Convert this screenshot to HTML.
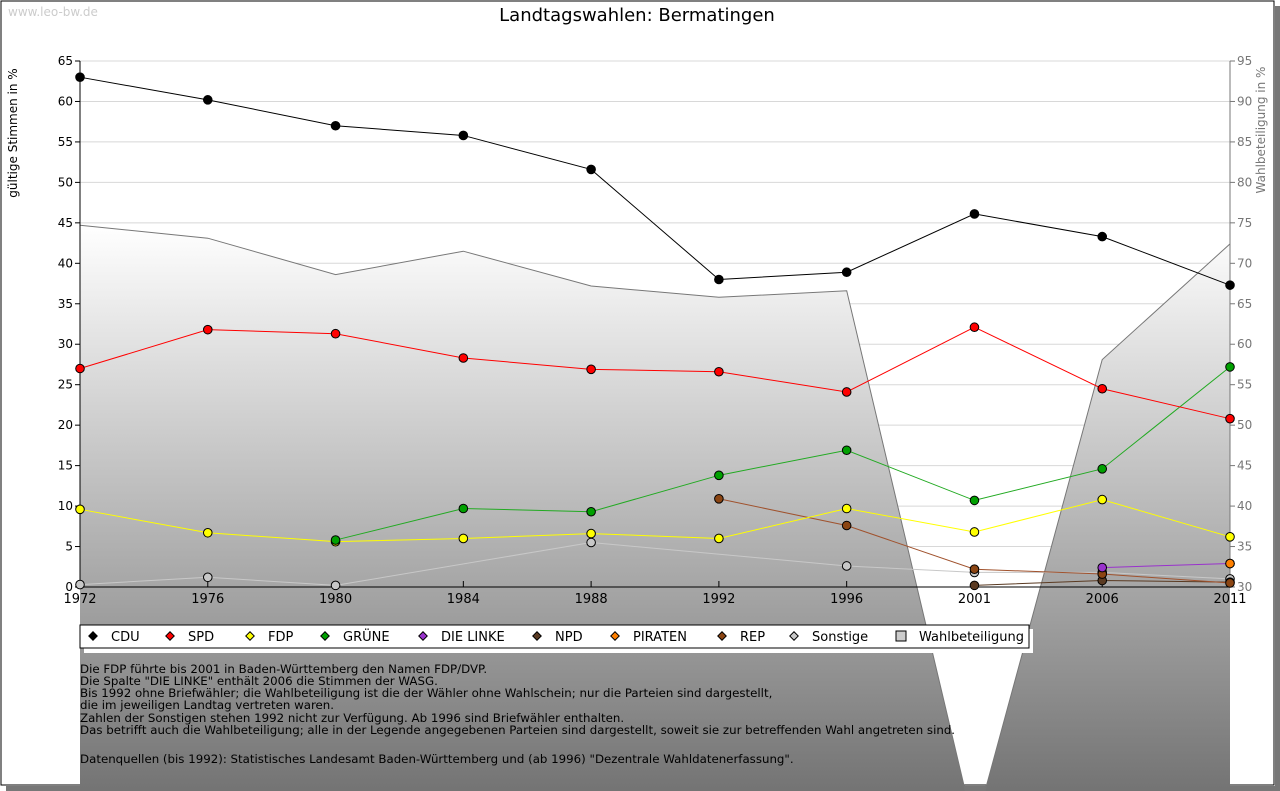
<!DOCTYPE html>
<html><head><meta charset="utf-8"><style>
html,body{margin:0;background:#fff;width:1280px;height:791px;overflow:hidden;}
svg{display:block;font-family:"DejaVu Sans","Liberation Sans",sans-serif;overflow:hidden;}
</style></head><body>
<svg id="c" width="1280" height="791" viewBox="0 0 1280 791" xmlns="http://www.w3.org/2000/svg">
<defs>
<linearGradient id="g" gradientUnits="userSpaceOnUse" x1="0" y1="225" x2="0" y2="830">
<stop offset="0" stop-color="#ffffff"/><stop offset="1" stop-color="#6a6a6a"/></linearGradient>
<clipPath id="cp"><rect x="0" y="0" width="1280" height="791"/></clipPath>
</defs>
<rect x="1" y="1" width="1273" height="784" fill="#fff" stroke="#000"/>
<rect x="1275" y="6" width="5" height="785" fill="#777"/>
<rect x="6" y="786" width="1269" height="5" fill="#777"/>
<text x="8" y="16" font-size="12" fill="#ccc">www.leo-bw.de</text>
<text x="637" y="21" font-size="18" text-anchor="middle" fill="#000">Landtagswahlen: Bermatingen</text>
<g id="grid"></g>
<g id="area" clip-path="url(#cp)"></g>
<g id="axes"></g>
<g id="series"></g>
<text transform="translate(17,133) rotate(-90)" font-size="12" text-anchor="middle">gültige Stimmen in %</text>
<text transform="translate(1265,130) rotate(-90)" font-size="12" text-anchor="middle" fill="#777">Wahlbeteiligung in %</text>
<rect x="84" y="629" width="949" height="24" fill="#fff"/>
<rect x="80" y="625" width="949" height="23" fill="#fff" stroke="#000"/>
<g id="legend"></g>
<g font-size="11.8" fill="#000">
<text x="80" y="673">Die FDP führte bis 2001 in Baden-Württemberg den Namen FDP/DVP.</text>
<text x="80" y="685">Die Spalte "DIE LINKE" enthält 2006 die Stimmen der WASG.</text>
<text x="80" y="697">Bis 1992 ohne Briefwähler; die Wahlbeteiligung ist die der Wähler ohne Wahlschein; nur die Parteien sind dargestellt,</text>
<text x="80" y="709">die im jeweiligen Landtag vertreten waren.</text>
<text x="80" y="722">Zahlen der Sonstigen stehen 1992 nicht zur Verfügung. Ab 1996 sind Briefwähler enthalten.</text>
<text x="80" y="734">Das betrifft auch die Wahlbeteiligung; alle in der Legende angegebenen Parteien sind dargestellt, soweit sie zur betreffenden Wahl angetreten sind.</text>
<text x="80" y="763">Datenquellen (bis 1992): Statistisches Landesamt Baden-Württemberg und (ab 1996) "Dezentrale Wahldatenerfassung".</text>
</g>
</svg>
<script>
const years=["1972","1976","1980","1984","1988","1992","1996","2001","2006","2011"];
const cdu=[63,60.2,57,55.8,51.6,38,38.9,46.1,43.3,37.3];
const spd=[27,31.8,31.3,28.3,26.9,26.6,24.1,32.1,24.5,20.8];
const fdp=[9.6,6.7,5.6,6.0,6.6,6.0,9.7,6.8,10.8,6.2];
const gruene=[null,null,5.8,9.7,9.3,13.8,16.9,10.7,14.6,27.2];
const linke=[null,null,null,null,null,null,null,null,2.4,2.9];
const npd=[null,null,null,null,null,null,null,0.2,0.8,0.6];
const piraten=[null,null,null,null,null,null,null,null,null,2.9];
const rep=[null,null,null,null,null,10.9,7.6,2.2,1.6,0.5];
const sonstige=[0.3,1.2,0.2,null,5.5,null,2.6,1.8,1.8,1.0];
const turnout=[74.7,73.1,68.6,71.5,67.2,65.8,66.6,0,58.1,72.4];
const leftTicks=[0,5,10,15,20,25,30,35,40,45,50,55,60,65];
const rightTicks=[30,35,40,45,50,55,60,65,70,75,80,85,90,95];
const NS="http://www.w3.org/2000/svg";
const X0=80,X1=1230,Y0=587,Y1=61,YB=791;
const x=i=>X0+i*(X1-X0)/(years.length-1);
const y=v=>Y0-(v/65)*(Y0-Y1);
const y2=v=>Y0-((v-30)/65)*(Y0-Y1);
function mk(tag,at,parent){const e=document.createElementNS(NS,tag);for(const k in at)e.setAttribute(k,at[k]);parent.appendChild(e);return e;}
const grid=document.getElementById('grid'),axes=document.getElementById('axes'),area=document.getElementById('area'),ser=document.getElementById('series'),leg=document.getElementById('legend');
leftTicks.forEach(t=>{
 if(t>0){const l=mk('line',{x1:X0,x2:X1,y1:y(t),y2:y(t),stroke:'#d8d8d8'},grid);}
 mk('line',{x1:X0-5,x2:X0,y1:y(t),y2:y(t),stroke:'#000'},axes);
 const tx=mk('text',{x:X0-7,y:y(t)+4,'font-size':12,'text-anchor':'end'},axes);tx.textContent=t;
 
});
rightTicks.forEach(t=>{
 mk('line',{x1:X1,x2:X1+5,y1:y2(t),y2:y2(t),stroke:'#777'},axes);
 const tx=mk('text',{x:X1+7,y:y2(t)+4,'font-size':12,fill:'#777'},axes);tx.textContent=t;
 
});
// turnout area, clamped to the bottom of the frame
const pts=turnout.map((v,i)=>[x(i),y2(v)]);
let poly=[[x(0),YB]];
for(let i=0;i<pts.length;i++){
 const [px,py]=pts[i];
 if(i>0){const [qx,qy]=pts[i-1];
  if((qy<YB)!==(py<YB)){const t=(YB-qy)/(py-qy);poly.push([qx+t*(px-qx),YB]);}}
 poly.push([px,Math.min(py,YB)]);
}
poly.push([x(years.length-1),YB]);
const d='M'+poly.map(p=>p[0].toFixed(1)+' '+p[1].toFixed(1)).join(' L')+' Z';
const ar=mk('path',{d:d,fill:'url(#g)'},area);
let dl='';poly.slice(1,-1).forEach((p,i)=>dl+=(i?' L':'M')+p[0].toFixed(1)+' '+p[1].toFixed(1));
mk('path',{d:dl,fill:'none',stroke:'#777'},area);
mk('line',{x1:X0,x2:X0,y1:Y1,y2:Y0,stroke:'#000'},axes);
mk('line',{x1:X1,x2:X1,y1:Y1,y2:Y0,stroke:'#777'},axes);
mk('line',{x1:X0,x2:X1,y1:Y0,y2:Y0,stroke:'#000'},axes);
years.forEach((yr,i)=>{mk('line',{x1:x(i),x2:x(i),y1:Y0-6,y2:Y0,stroke:'#000'},axes);
 const tx=mk('text',{x:x(i),y:Y0+16,'font-size':13,'text-anchor':'middle'},axes);tx.textContent=yr;
 });
const series=[["sonstige",sonstige,'#c8c8c8','#c8c8c8'],["npd",npd,'#5a3a22','#5a3a22'],["rep",rep,'#8b4513','#a0522d'],["linke",linke,'#9932cc','#9932cc'],["piraten",piraten,'#ff8000','#ff8000'],["fdp",fdp,'#ffff00','#ffff00'],["gruene",gruene,'#00a000','#22aa22'],["spd",spd,'#ff0000','#ff0000'],["cdu",cdu,'#000','#000']];
series.forEach(([n,arr,fc,lc])=>{
 const g=mk('g',{},ser);
 let p='';arr.forEach((v,i)=>{if(v!=null)p+=(p?' L':'M')+x(i)+' '+y(v);});
 if(p)mk('path',{d:p,fill:'none',stroke:lc,'stroke-width':1},g);
 arr.forEach((v,i)=>{if(v==null)return;const c=mk('circle',{cx:x(i),cy:y(v),r:4.3,fill:fc,stroke:'#000','stroke-width':1},g);
 });
});
const legItems=[["CDU",'#000',93],["SPD",'#ff0000',170],["FDP",'#ffff00',250],["GRÜNE",'#00a000',325],["DIE LINKE",'#9932cc',423],["NPD",'#5a3a22',537],["PIRATEN",'#ff8000',615],["REP",'#8b4513',722],["Sonstige",'#c8c8c8',794]];
legItems.forEach(([t,c,lx])=>{const g=mk('g',{},leg);
 mk('rect',{x:lx-3,y:633,width:6,height:6,fill:c,stroke:'#000',transform:`rotate(45 ${lx} 636)`},g);
 const tx=mk('text',{x:lx+18,y:641,'font-size':13},g);tx.textContent=t;});
{const g=mk('g',{},leg);
 mk('rect',{x:896,y:631,width:10,height:10,fill:'#ccc',stroke:'#000'},g);
 const tx=mk('text',{x:919,y:641,'font-size':13},g);tx.textContent='Wahlbeteiligung';}
</script>
</body></html>
